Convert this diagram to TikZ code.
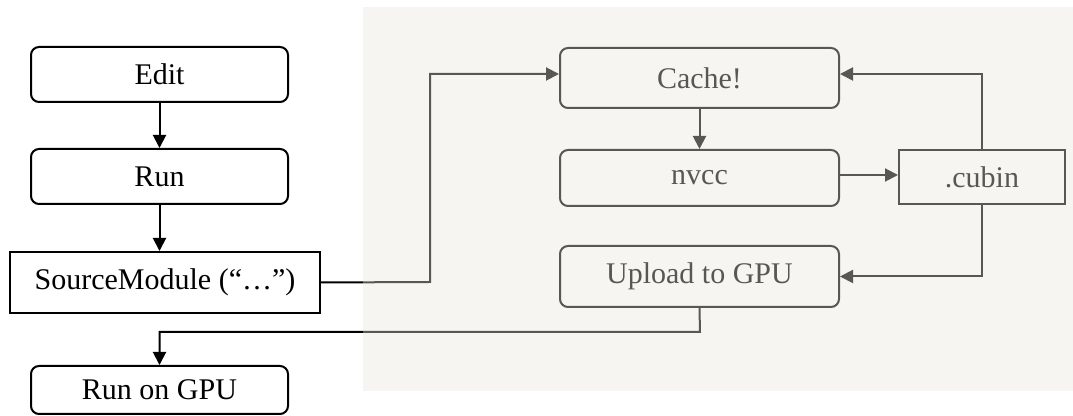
\documentclass[tikz,border=0pt]{standalone}
\usepackage{fontspec}
\setmainfont{Liberation Serif}
\usetikzlibrary{arrows.meta,calc}
\definecolor{veil}{RGB}{232,229,218}
\begin{document}
\begin{tikzpicture}[x=0.5pt,y=-0.5pt,
  font=\fontsize{15}{18}\selectfont,
  box/.style={draw=black, line width=1pt, inner sep=0pt, align=center},
  rbox/.style={box, rounded corners=4pt},
  conn/.style={draw=black, line width=1pt, -{Triangle[length=6.5pt,width=6.5pt]}}]
\useasboundingbox (0,0) rectangle (1073,416);
% left column
\node[rbox, minimum width=128.5pt, minimum height=27.5pt] (edit) at (159.5,74.5) {Edit};
\node[rbox, minimum width=128.5pt, minimum height=27.5pt] (run) at (159.5,176.5) {Run};
\node[box, minimum width=155pt, minimum height=30.5pt] (sm) at (165,282.5) {SourceModule (“…”)};
\node[rbox, minimum width=128.5pt, minimum height=24pt] (gpu) at (159.5,390) {Run on GPU};
% right panel
\node[rbox, minimum width=139.5pt, minimum height=30pt] (cache) at (699.5,78) {Cache!};
\node[rbox, minimum width=139.5pt, minimum height=28pt] (nvcc) at (699.5,178) {nvcc};
\node[box, minimum width=83pt, minimum height=27pt] (cubin) at (982,177) {.cubin};
\node[rbox, minimum width=139.5pt, minimum height=30.5pt] (upload) at (699.5,276.5) {Upload to GPU};
% connectors
\draw[conn] (edit) -- (run);
\draw[conn] (run.south) -- (sm.north -| run.south);
\coordinate (cw) at ($(cache.west)+(0,-4)$);
\coordinate (ce) at ($(cache.east)+(0,-4)$);
\coordinate (ne) at ($(nvcc.east)+(0,-3)$);
\draw[conn] (sm.east) -- (430,282) |- (cw);
\draw[conn] (cache) -- (nvcc);
\draw[conn] (ne) -- (ne -| cubin.west);
\draw[conn] (cubin.north) |- (ce);
\draw[conn] (cubin.south) |- (upload.east);
\coordinate (bend) at (700,332);
\draw[conn] (upload.south) -- (bend) -| (gpu.north);
% veil over the right panel
\fill[veil, fill opacity=0.38] (363,7) rectangle (1073,391);
\end{tikzpicture}
\end{document}
